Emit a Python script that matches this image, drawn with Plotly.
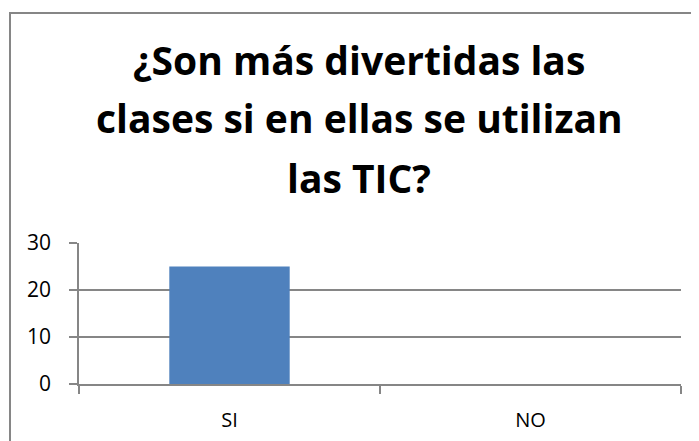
import plotly.graph_objects as go

categories = ["SI", "NO"]
values = [25, 0]
y_ticks = [0, 10, 20, 30]
title_lines = ["¿Son más divertidas las", "clases si en ellas se utilizan", "las TIC?"]

# page body has an 8px margin, so the figure is sized to fill the rest of the window
W, H = 691, 433
L, R, T, B = 71, 18, 235, 57
PW, PH = W - L - R, H - T - B

fig = go.Figure()
fig.add_trace(go.Bar(x=categories, y=values, marker=dict(color="#4F81BD", line=dict(width=0)),
                     width=0.4))

axis_col = "#868686"
fig.update_layout(
    width=W, height=H,
    margin=dict(l=L, r=R, t=T, b=B),
    paper_bgcolor="white", plot_bgcolor="white",
    showlegend=False,
    font=dict(family="Open Sans, sans-serif", size=20, color="#000000"),
    xaxis=dict(showline=True, linecolor=axis_col, linewidth=1.5, automargin=False,
               ticks="outside", ticklen=8, tickcolor=axis_col, tickwidth=1.5,
               tickson="boundaries", showgrid=False, ticklabelstandoff=17,
               tickfont=dict(size=20)),
    yaxis=dict(range=[0, 30], tickvals=y_ticks, showgrid=True, gridcolor=axis_col,
               gridwidth=1.5, showline=True, linecolor=axis_col, linewidth=1.5,
               ticks="outside", ticklen=8, tickcolor=axis_col, tickwidth=1.5,
               automargin=False,
               zeroline=False, ticklabelstandoff=14, tickfont=dict(size=21)),
)

# outer chart border (cropped at right and bottom in the reference)
fig.add_shape(type="rect", xref="paper", yref="paper",
              x0=(2 - L) / PW, x1=(760 - L) / PW,
              y0=(H - 480 - B) / PH, y1=(H - 5 - B) / PH,
              line=dict(color=axis_col, width=2), layer="below")

line_y = [52, 110, 169]
for txt, yy in zip(title_lines, line_y):
    fig.add_annotation(text="<b>" + txt + "</b>", xref="paper", yref="paper",
                       x=(351 - L) / PW, y=(H - yy - B) / PH,
                       xanchor="center", yanchor="middle", showarrow=False,
                       font=dict(size=39, color="#000000", family="Open Sans, sans-serif"))

fig.write_html("out.html")
